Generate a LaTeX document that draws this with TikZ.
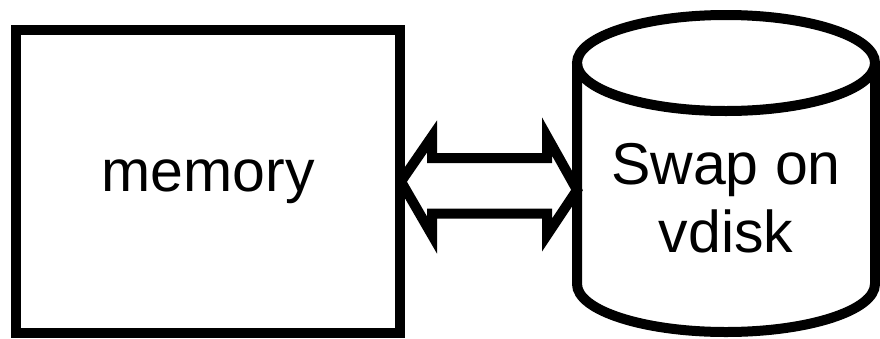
\documentclass[tikz,border=0pt]{standalone}
\usepackage{fontspec}
\setmainfont{Liberation Sans}

\begin{document}
\begin{tikzpicture}[x=1pt, y=-1pt, line width=10pt, line join=miter,
  font=\fontsize{59}{68}\selectfont]

\useasboundingbox (0,0) rectangle (880,338);

% Memory box
\node[draw, rectangle, minimum width=384pt, minimum height=303pt, inner sep=0pt] (mem) at (208,181.5) {memory};

% Swap disk (cylinder)
\coordinate (dtl) at (577,63);
\coordinate (dtr) at (875,63);
\coordinate (dbl) at (577,284);
\coordinate (dbr) at (875,284);
\draw[fill=white] (726,63) ellipse[x radius=149, y radius=48];
\draw (dtl) -- (dbl) arc[start angle=180, end angle=0, x radius=149, y radius=48] -- (dtr);
\node[align=center, inner sep=0pt] (swap) at (726,198) {Swap on\\vdisk};
\coordinate (disk) at (577,190);

% Two-way link, tip to tip
\draw ([xshift=-4pt]mem.east) -- ++(31,-45) -- ++(0,21.5) -- ++(115,0) -- ++(0,-21.5)
  -- (disk) -- ++(-30,45) -- ++(0,-21.5) -- ++(-115,0) -- ++(0,21.5) -- cycle;

\end{tikzpicture}
\end{document}
